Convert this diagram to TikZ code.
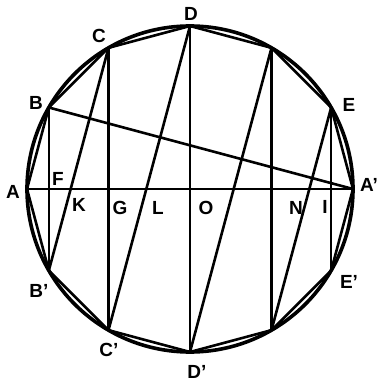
\documentclass[tikz,border=0pt]{standalone}
\usepackage{fontspec}
\setsansfont{Liberation Sans}
\usetikzlibrary{calc}

\begin{document}
\begin{tikzpicture}[x=1pt,y=1pt,
  every node/.style={font=\sffamily\bfseries\fontsize{19}{19}\selectfont,inner sep=0pt},
  rim/.style={line width=3.6pt},
  chord/.style={line width=2.6pt,line join=round}]
  \useasboundingbox (-190,-194) rectangle (190,189);
  \def\R{163}
  \coordinate (O) at (0,0);
  % corners of the twelve-sided figure
  \foreach \n/\a in {A/180,B/150,C/120,D/90,P/60,E/30,Ap/0,Ep/-30,Q/-60,Dp/-90,Cp/-120,Bp/-150}
    \coordinate (\n) at (\a:\R);
  \draw[rim] (O) circle (\R);
  \draw[chord] (A) -- (B) -- (C) -- (D) -- (P) -- (E) -- (Ap) -- (Ep) -- (Q) -- (Dp) -- (Cp) -- (Bp) -- cycle;
  \draw[chord] (A) -- (Ap);
  \foreach \u/\v in {B/Bp,C/Cp,D/Dp,P/Q,E/Ep,Bp/C,Cp/D,Dp/P,Q/E,B/Ap}
    \draw[chord] (\u) -- (\v);
  % letters
  \foreach \n/\t/\x/\y in {lA/A/-177/-3,lB/B/-154/86,lC/C/-91/153,lD/D/1/175,lE/E/159/84,
      lAp/A'/179/4,lEp/E'/159/-93,lDp/D'/7/-183,lCp/C'/-81/-161,lBp/B'/-151/-102,
      lF/F/-132/10,lK/K/-111/-16,lG/G/-70/-19,lL/L/-32/-19,lO/O/16/-19,lN/N/106/-19,lI/I/135/-18}
    \node (\n) at (\x,\y) {\t};
\end{tikzpicture}
\end{document}
